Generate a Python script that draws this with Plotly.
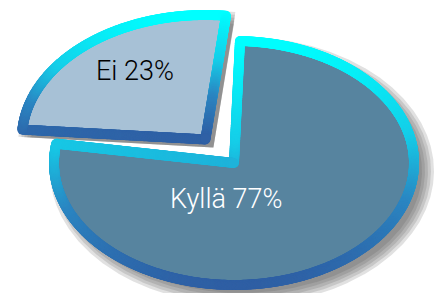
import numpy as np
import plotly.graph_objects as go

# ---- data ----
labels = ["Kyllä", "Ei"]
values = [77, 23]

# ---- styling ----
pulls = [0.0, 0.25]
radial_scale = [1.0, 1.02]
angular_spread = [1.0, 1.11]
text_colors = ["white", "black"]
fill_colors = ["#57849f", "#a7c1d6"]
label_px = {"Kyllä": (226, 202), "Ei": (134.5, 74)}  # pixel centres of label text

# ---- geometry (pixel-like axis space, y up) ----
W, H = 445, 293
OFF = 8  # page body margin of the html output
CX, CY = 234, H - 163
A, B = 180, 122
ROT = 88.1  # start angle of first slice (deg), clockwise
BORDER = 10
scale = [[0, "#2f5fa4"], [0.33, "#2b86c2"], [0.6, "#16cde8"], [1, "#00ffff"]]

fig = go.Figure()

total = sum(values)
slices = []
start = ROT
for lab, v, p, rs, sp in zip(labels, values, pulls, radial_scale, angular_spread):
    span = 360.0 * v / total
    mid = start - span / 2
    s0, s1 = mid + span * sp / 2, mid - span * sp / 2
    th = np.radians(np.linspace(s0, s1, max(int(span * 4), 24)))
    m = np.radians(mid)
    ox = CX + p * A * np.cos(m)
    oy = CY + p * B * np.sin(m)
    slices.append((lab, th, ox, oy, rs))
    start -= span


def wedge(th, ox, oy, rs, d=0.0, sx=0.0, sy=0.0):
    xs = np.concatenate([[ox], ox + (A * rs + d) * np.cos(th), [ox]]) + sx
    ys = np.concatenate([[oy], oy + (B * rs + d) * np.sin(th), [oy]]) + sy
    return xs, ys


# soft drop shadows
for lab, th, ox, oy, rs in slices:
    for d in [12, 9, 6, 3, 0]:
        xs, ys = wedge(th, ox, oy, rs, d, 8, -8)
        fig.add_trace(go.Scatter(x=xs, y=ys, mode="lines", fill="toself",
                                 fillcolor="rgba(70,70,70,0.16)", line=dict(width=0),
                                 hoverinfo="skip", showlegend=False))


def densify(xs, ys, step=0.7):
    px, py = [], []
    for i in range(len(xs) - 1):
        n = max(int(np.hypot(xs[i + 1] - xs[i], ys[i + 1] - ys[i]) / step), 1)
        t = np.linspace(0, 1, n, endpoint=False)
        px.extend(xs[i] + (xs[i + 1] - xs[i]) * t)
        py.extend(ys[i] + (ys[i + 1] - ys[i]) * t)
    return np.array(px), np.array(py)


for (lab, th, ox, oy, rs), fc in zip(slices, fill_colors):
    xs, ys = wedge(th, ox, oy, rs)
    fig.add_trace(go.Scatter(x=xs, y=ys, mode="lines", fill="toself", fillcolor=fc,
                             line=dict(width=0), hoverinfo="skip", showlegend=False))
    px, py = densify(xs, ys)
    fig.add_trace(go.Scatter(x=px, y=py, mode="markers",
                             marker=dict(size=BORDER, color=py, colorscale=scale,
                                         cmin=py.min(), cmax=py.max(), line=dict(width=0)),
                             hoverinfo="skip", showlegend=False))

# labels
for lab, v, tc in zip(labels, values, text_colors):
    x, y = label_px[lab]
    fig.add_annotation(x=x, y=H - y, text=f"{lab} {v}%", showarrow=False,
                       font=dict(family="Roboto", size=27, color=tc, weight=300),
                       xanchor="center", yanchor="middle", yshift=3)

fig.update_layout(width=W, height=H, autosize=False,
                  margin=dict(l=0, r=0, t=0, b=0),
                  paper_bgcolor="white", plot_bgcolor="white",
                  xaxis=dict(range=[OFF, W + OFF], visible=False, fixedrange=True),
                  yaxis=dict(range=[-OFF, H - OFF], visible=False, fixedrange=True))

fig.write_html("out.html")
